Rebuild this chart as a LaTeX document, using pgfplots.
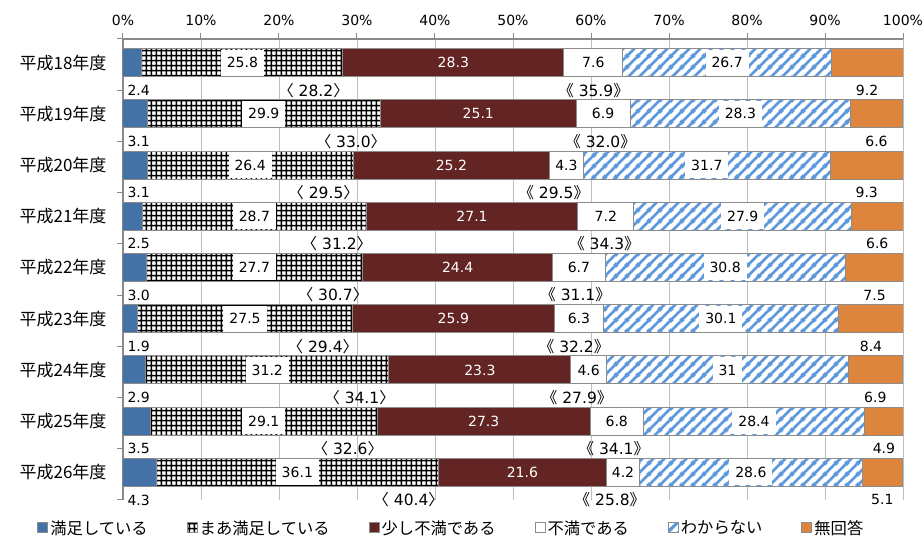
\documentclass[border=0pt]{standalone}
\usepackage{pgfplots}
\pgfplotsset{compat=1.18}
\usepackage{pgfplotstable}
\usetikzlibrary{patterns}
\usepackage{fontspec}
\setmainfont{DejaVu Sans}
\newfontfamily\jp{Noto Sans CJK JP}
\newcommand\numf{\fontsize{14}{16}\selectfont}
\newcommand\brf{\fontsize{15.5}{18}\selectfont}
\definecolor{cA}{HTML}{4472A6}
\definecolor{cC}{HTML}{632523}
\definecolor{cF}{HTML}{DD843D}
\definecolor{stripe}{HTML}{5E98DC}
\definecolor{bord}{HTML}{8C8C8C}
\definecolor{gridc}{HTML}{BFBFBF}
\definecolor{axc}{HTML}{8A8A8A}

\pgfdeclarepatternformonly{mygrid}{\pgfqpoint{0pt}{0pt}}{\pgfqpoint{4.8pt}{4.8pt}}{\pgfqpoint{4.8pt}{4.8pt}}{
  \pgfsetlinewidth{1.5pt}
  \pgfpathmoveto{\pgfqpoint{-1pt}{2.4pt}}\pgfpathlineto{\pgfqpoint{5.8pt}{2.4pt}}
  \pgfpathmoveto{\pgfqpoint{2.4pt}{-1pt}}\pgfpathlineto{\pgfqpoint{2.4pt}{5.8pt}}
  \pgfusepath{stroke}}
\pgfdeclarepatternformonly{mystripes}{\pgfqpoint{0pt}{0pt}}{\pgfqpoint{11pt}{11pt}}{\pgfqpoint{11pt}{11pt}}{
  \pgfsetlinewidth{3pt}
  \pgfpathmoveto{\pgfqpoint{-3pt}{-3pt}}\pgfpathlineto{\pgfqpoint{14pt}{14pt}}
  \pgfpathmoveto{\pgfqpoint{-3pt}{8pt}}\pgfpathlineto{\pgfqpoint{3pt}{14pt}}
  \pgfpathmoveto{\pgfqpoint{8pt}{-3pt}}\pgfpathlineto{\pgfqpoint{14pt}{3pt}}
  \pgfusepath{stroke}}

\pgfplotstableread{
y s1 s2 s3 s4 s5 s6 b1 b2
8 2.4 25.8 28.3 7.6 26.7 9.2 28.2 35.9
7 3.1 29.9 25.1 6.9 28.3 6.6 33.0 32.0
6 3.1 26.4 25.2 4.3 31.7 9.3 29.5 29.5
5 2.5 28.7 27.1 7.2 27.9 6.6 31.2 34.3
4 3.0 27.7 24.4 6.7 30.8 7.5 30.7 31.1
3 1.9 27.5 25.9 6.3 30.1 8.4 29.4 32.2
2 2.9 31.2 23.3 4.6 31 6.9 34.1 27.9
1 3.5 29.1 27.3 6.8 28.4 4.9 32.6 34.1
0 4.3 36.1 21.6 4.2 28.6 5.1 40.4 25.8
}\data
\pgfplotstablecreatecol[create col/expr={\thisrow{s1}+0.5*\thisrow{s2}}]{m2}{\data}
\pgfplotstablecreatecol[create col/expr={\thisrow{s1}+\thisrow{s2}}]{c2}{\data}
\pgfplotstablecreatecol[create col/expr={\thisrow{c2}+0.5*\thisrow{s3}}]{m3}{\data}
\pgfplotstablecreatecol[create col/expr={\thisrow{c2}+\thisrow{s3}+0.5*\thisrow{s4}}]{m4}{\data}
\pgfplotstablecreatecol[create col/expr={\thisrow{c2}+\thisrow{s3}+\thisrow{s4}}]{c4}{\data}
\pgfplotstablecreatecol[create col/expr={\thisrow{c4}+0.5*\thisrow{s5}}]{m5}{\data}
\pgfplotstablecreatecol[create col/expr={\thisrow{c4}+\thisrow{s5}+0.5*\thisrow{s6}}]{m6}{\data}
\pgfplotstablecreatecol[create col/expr={\thisrow{y}-0.5}]{yb}{\data}
\pgfplotstablecreatecol[create col/expr={0}]{z}{\data}

\pgfplotsset{
  sq/.style={legend image code/.code={\draw[##1] (0pt,-5pt) rectangle (10pt,5pt);}},
  lbl/.style={only marks, mark=*, mark size=0pt, mark options={draw=none,fill=none},
    nodes near coords, point meta=explicit symbolic,
    every node near coord/.append style={#1}},
  box/.style={at={(0pt,0pt)}, anchor=south west,
    scale only axis, width=780pt, height=461pt,
    xmin=0, xmax=100, ymin=-0.5, ymax=8.5, enlargelimits=false},
}

\begin{document}
\begin{tikzpicture}
\useasboundingbox (-123pt,-40pt) rectangle (799pt,500pt);
% base layer: axis, grid, solid bars
\begin{axis}[
  box,
  xbar stacked, bar width=28pt, bar shift=2pt,
  axis x line*=top, axis y line*=left,
  axis line style={draw=axc, line width=1.2pt},
  xtick={0,10,20,30,40,50,60,70,80,90,100},
  xticklabels={0\%,10\%,20\%,30\%,40\%,50\%,60\%,70\%,80\%,90\%,100\%},
  ytick={-0.5,0.5,...,8.5},
  yticklabels={,平成26年度,平成25年度,平成24年度,平成23年度,平成22年度,平成21年度,平成20年度,平成19年度,平成18年度},
  tick align=outside, major tick length=6pt,
  tick style={draw=axc, line width=1pt},
  xmajorgrids, grid style={draw=gridc, line width=0.8pt},
  xticklabel style={font=\numf, yshift=4pt},
  yticklabel style={font=\jp\fontsize{17}{19}\selectfont, yshift=-23.6pt, xshift=-7pt},
  legend columns=6,
  legend style={at={(axis description cs:0.421,0)}, anchor=north, yshift=-16pt,
    draw=none, font=\jp\fontsize{16.3}{19}\selectfont,
    /tikz/every even column/.append style={column sep=37pt}},
]
\addlegendimage{sq, fill=cA, draw=bord, line width=1pt}
\addlegendimage{sq, pattern=mygrid, pattern color=black, draw=bord, line width=1pt}
\addlegendimage{sq, fill=cC, draw=bord, line width=1pt}
\addlegendimage{sq, fill=white, draw=bord, line width=1pt}
\addlegendimage{sq, pattern=mystripes, pattern color=stripe, draw=bord, line width=1pt}
\addlegendimage{sq, fill=cF, draw=bord, line width=1pt}
\addplot[fill=cA, draw=bord, line width=1pt] table[x=s1, y=y]{\data};
\addplot[fill=white, draw=bord, line width=1pt] table[x=s2, y=y]{\data};
\addplot[fill=cC, draw=bord, line width=1pt] table[x=s3, y=y]{\data};
\addplot[fill=white, draw=bord, line width=1pt] table[x=s4, y=y]{\data};
\addplot[fill=white, draw=bord, line width=1pt] table[x=s5, y=y]{\data};
\addplot[fill=cF, draw=bord, line width=1pt] table[x=s6, y=y]{\data};
\legend{満足している,まあ満足している,少し不満である,不満である,わからない,無回答}
\end{axis}
% pattern layer
\begin{axis}[
  box, hide axis,
  xbar stacked, bar width=28pt, bar shift=2pt,
]
\addplot[draw=none, fill=none] table[x=s1, y=y]{\data};
\addplot[pattern=mygrid, pattern color=black, draw=bord, line width=1pt] table[x=s2, y=y]{\data};
\addplot[draw=none, fill=none] table[x=s3, y=y]{\data};
\addplot[draw=none, fill=none] table[x=s4, y=y]{\data};
\addplot[pattern=mystripes, pattern color=stripe, draw=bord, line width=1pt] table[x=s5, y=y]{\data};
\addplot[draw=none, fill=none] table[x=s6, y=y]{\data};
\end{axis}
% label layer
\begin{axis}[box, hide axis, clip=false]
\addplot[lbl={anchor=west, xshift=1pt, font=\numf}] table[x=z, y=yb, meta=s1]{\data};
\addplot[lbl={anchor=center, yshift=2pt, fill=white, inner xsep=6pt, inner ysep=0pt, minimum height=26pt, font=\numf}] table[x=m2, y=y, meta=s2]{\data};
\addplot[lbl={anchor=center, yshift=2pt, text=white, font=\numf}] table[x=m3, y=y, meta=s3]{\data};
\addplot[lbl={anchor=center, yshift=2pt, font=\numf}] table[x=m4, y=y, meta=s4]{\data};
\addplot[lbl={anchor=center, yshift=2pt, fill=white, inner xsep=6pt, inner ysep=0pt, minimum height=26pt, font=\numf}] table[x=m5, y=y, meta=s5]{\data};
\addplot[lbl={anchor=center, font=\numf}] table[x=m6, y=yb, meta=s6]{\data};
\addplot[lbl={anchor=east, inner sep=0pt, xshift=6pt, font=\brf},
  nodes near coords={{\jp 〈} \pgfplotspointmeta{\jp 〉}}] table[x=c2, y=yb, meta=b1]{\data};
\addplot[lbl={anchor=east, inner sep=0pt, xshift=6pt, font=\brf},
  nodes near coords={{\jp 《} \pgfplotspointmeta{\jp 》}}] table[x=c4, y=yb, meta=b2]{\data};
\end{axis}
\end{tikzpicture}
\end{document}
